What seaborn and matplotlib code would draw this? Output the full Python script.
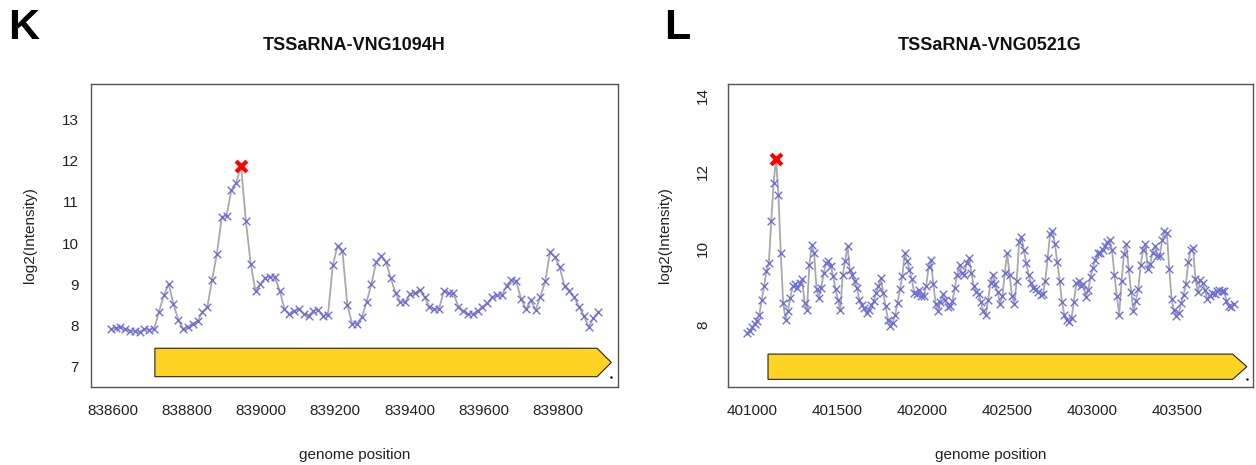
import numpy as np
import pandas as pd
import matplotlib
matplotlib.use("Agg")
import matplotlib.pyplot as plt
from matplotlib.patches import Polygon
import seaborn as sns

# ---------------- data: panel K ----------------
TITLE_K = "TSSaRNA-VNG1094H"
START_K = 838595          # first probe position
STEP_K = 13               # probe spacing (bp)
INTENSITY_K = [
    7.92, 7.94, 7.97, 7.92, 7.88, 7.86, 7.84, 7.92, 7.90, 7.92,
    8.34, 8.73, 9.01, 8.52, 8.14, 7.92, 7.96, 8.05, 8.10, 8.34,
    8.44, 9.11, 9.74, 10.63, 10.67, 11.28, 11.47, 11.87, 10.54, 9.50,
    8.83, 9.00, 9.16, 9.19, 9.17, 8.85, 8.40, 8.28, 8.36, 8.40,
    8.28, 8.24, 8.36, 8.38, 8.24, 8.26, 9.46, 9.94, 9.82, 8.51,
    8.05, 8.04, 8.20, 8.57, 9.01, 9.54, 9.68, 9.55, 9.16, 8.78,
    8.57, 8.57, 8.77, 8.78, 8.87, 8.69, 8.46, 8.40, 8.40, 8.83,
    8.79, 8.79, 8.46, 8.35, 8.28, 8.28, 8.36, 8.46, 8.54, 8.69,
    8.73, 8.73, 8.97, 9.11, 9.07, 8.65, 8.40, 8.61, 8.38, 8.70,
    9.07, 9.78, 9.66, 9.42, 8.95, 8.85, 8.69, 8.46, 8.24, 7.97,
    8.18, 8.32,
]
PEAK_K = 27               # index of the TSS peak
GENE_K = (838714, 839943)
XTICKS_K = [838600, 838800, 839000, 839200, 839400, 839600, 839800]
YTICKS_K = [7, 8, 9, 10, 11, 12, 13]
XLIM_K = (838542, 839961)
YLIM_K = (6.51, 13.86)

# ---------------- data: panel L ----------------
TITLE_L = "TSSaRNA-VNG0521G"
START_L = 400974
STEP_L = 14
INTENSITY_L = [
    7.78, 7.84, 7.93, 8.02, 8.09, 8.26, 8.65, 9.00, 9.40, 9.61,
    10.70, 11.71, 12.34, 11.40, 9.87, 8.57, 8.13, 8.35, 8.70, 9.00,
    9.05, 8.96, 9.09, 9.18, 8.57, 8.39, 9.57, 10.09, 9.87, 8.92,
    8.70, 8.96, 9.35, 9.61, 9.66, 9.53,
    9.26, 8.92, 8.65, 8.39, 9.31, 9.66, 10.05, 9.44, 9.31, 9.13,
    8.95, 8.65, 8.52, 8.44, 8.30, 8.39, 8.52, 8.61, 8.83, 9.00,
    9.22, 8.83, 8.48, 8.13, 7.96, 8.04, 8.26, 8.57, 8.92, 9.26,
    9.87, 9.66, 9.44, 9.18, 8.83,
    8.79, 8.90, 8.74, 8.75, 9.00, 9.50, 9.70, 9.05, 8.55, 8.35,
    8.60, 8.80, 8.65, 8.47, 8.48, 8.61, 8.95, 9.31, 9.57, 9.35,
    9.30, 9.61, 9.74, 9.35, 9.00, 8.85, 8.79, 8.60, 8.35, 8.25,
    8.65, 9.09, 9.31, 9.05, 8.85,
    8.55, 8.74, 9.35, 9.87, 9.30, 8.75, 8.55, 9.15, 10.15, 10.30,
    9.95, 9.60, 9.30, 9.10, 8.96, 8.92, 8.85, 8.78, 8.80, 9.15,
    9.75, 10.36, 10.45, 10.12, 9.65, 9.15, 8.60, 8.25, 8.12, 8.06,
    8.17, 8.60, 9.09, 9.13, 9.02,
    9.05, 8.72, 8.90, 9.25, 9.49, 9.70, 9.88, 9.86, 9.95, 10.06,
    10.15, 10.21, 9.95, 9.30, 8.75, 8.26, 9.15, 9.85, 10.10, 9.45,
    8.85, 8.35, 8.62, 8.92, 9.55, 9.95, 10.10, 9.46, 9.58, 9.88,
    10.06, 9.80, 9.80, 10.20, 10.45, 10.40, 9.45, 8.68, 8.37, 8.23,
    8.30, 8.56, 8.78, 9.05, 9.65, 9.95, 10.00, 9.18, 8.85, 9.16,
    9.10, 8.90, 8.67, 8.75, 8.82, 8.80, 8.87, 8.91, 8.88, 8.88,
    8.63, 8.48, 8.47, 8.55,
]
PEAK_L = 12
GENE_L = (401095, 403908)
XTICKS_L = [401000, 401500, 402000, 402500, 403000, 403500]
YTICKS_L = [8, 10, 12, 14]
XLIM_L = (400860, 403944)
YLIM_L = (6.37, 14.29)

PANEL_LABELS = ["K", "L"]
XLABEL = "genome position"
YLABEL = "log2(Intensity)"

# ---------------- style ----------------
sns.set_style("white")
plt.rcParams["font.family"] = ["Liberation Sans", "DejaVu Sans"]

W, H = 1256, 465
fig = plt.figure(figsize=(W / 100, H / 100), dpi=100)

LINE_C = "#a9a9a9"
PT_C = "#6f6fd8"
SPINE_C = "#555555"
TXT_C = "#222222"
GENE_C = "#FFD324"


def panel(rect, title, start, step, vals, peak, gene, xticks, yticks, xlim, ylim,
          gene_y, rot_y, title_x, label, label_x, ylab_x):
    ax = fig.add_axes([rect[0] / W, 1 - rect[3] / H, (rect[2] - rect[0]) / W,
                       (rect[3] - rect[1]) / H])
    pos = start + step * np.arange(len(vals))
    df = pd.DataFrame({"pos": pos, "val": vals})
    sns.lineplot(data=df, x="pos", y="val", ax=ax, color=LINE_C, lw=1.3,
                 zorder=2, estimator=None, sort=False)
    sns.scatterplot(data=df, x="pos", y="val", ax=ax, marker="x", s=30,
                    color=PT_C, linewidth=1.0, zorder=3)
    sns.scatterplot(x=[pos[peak]], y=[vals[peak]], ax=ax, marker="x", s=60,
                    color="red", linewidth=3.0, zorder=4)

    # gene arrow
    g0, g1 = gene
    head = 0.027 * (xlim[1] - xlim[0])
    y0, y1 = gene_y
    poly = Polygon([(g0, y1), (g1 - head, y1), (g1, (y0 + y1) / 2),
                    (g1 - head, y0), (g0, y0)], closed=True,
                   facecolor=GENE_C, edgecolor="#222222", lw=0.8, zorder=2)
    ax.add_patch(poly)
    ax.plot([g1], [y0], marker=".", ms=1.5, color="black")

    ax.set_xlim(*xlim)
    ax.set_ylim(*ylim)
    ax.set_xticks(xticks)
    ax.set_xticklabels([str(t) for t in xticks])
    ax.set_yticks(yticks)
    ax.set_yticklabels([str(t) for t in yticks])
    for sp in ax.spines.values():
        sp.set_visible(True)
        sp.set_color(SPINE_C)
        sp.set_linewidth(1.0)
    ax.tick_params(axis="both", direction="out", length=5, width=0.8,
                   color=SPINE_C, labelsize=11, labelcolor=TXT_C)
    ax.tick_params(axis="x", pad=7)
    if rot_y:
        ax.tick_params(axis="y", pad=8)
        for lab in ax.get_yticklabels():
            lab.set_rotation(90)
            lab.set_va("center")
            lab.set_ha("right")
    else:
        ax.tick_params(axis="y", pad=4)

    ax.set_xlabel(XLABEL, fontsize=11, color=TXT_C)
    ax.xaxis.set_label_coords(0.5, (rect[3] - 455) / (rect[3] - rect[1]))
    ax.xaxis.label.set_va("center")
    ax.set_ylabel(YLABEL, fontsize=11, color=TXT_C)
    ax.yaxis.set_label_coords((ylab_x - rect[0]) / (rect[2] - rect[0]), 0.5)
    ax.yaxis.label.set_va("center")

    fig.text(title_x / W, 1 - 46 / H, title, fontsize=13, fontweight="bold",
             ha="center", va="center", color="#111111")
    fig.text(label_x / W, 1 - 28 / H, label, fontsize=31, fontweight="bold",
             ha="left", va="center", color="black")
    return ax


panel((91, 84, 618, 387), TITLE_K, START_K, STEP_K, INTENSITY_K, PEAK_K, GENE_K,
      XTICKS_K, YTICKS_K, XLIM_K, YLIM_K, (6.76, 7.45), False, 354.5,
      PANEL_LABELS[0], 8, 30)
panel((728, 84, 1253, 387), TITLE_L, START_L, STEP_L, INTENSITY_L, PEAK_L, GENE_L,
      XTICKS_L, YTICKS_L, XLIM_L, YLIM_L, (6.57, 7.23), True, 990,
      PANEL_LABELS[1], 664, 665)

fig.savefig("out.png", dpi=100)
